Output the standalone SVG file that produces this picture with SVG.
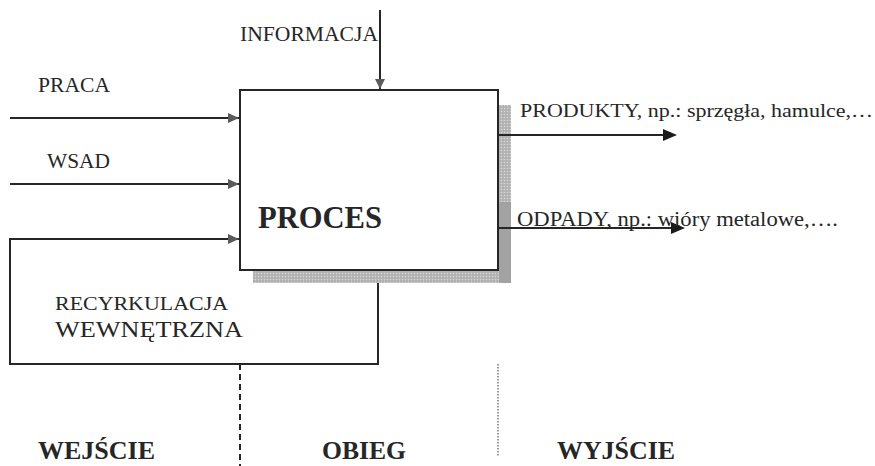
<svg xmlns="http://www.w3.org/2000/svg" width="875" height="466" viewBox="0 0 875 466">
  <style>
    .ln { stroke: #262626; stroke-width: 2; fill: none; }
    .lbl { font-family: "Liberation Serif", "Times New Roman", serif; fill: #262626; }
    .bold { font-family: "Liberation Serif", "Times New Roman", serif; font-weight: bold; fill: #262626; }
    .inhead { fill: #5a5a5a; }
    .outhead { fill: #1a1a1a; }
  </style>
  <defs>
    <pattern id="dots" width="3" height="3" patternUnits="userSpaceOnUse">
      <rect width="3" height="3" fill="#b9b9b9"/>
      <rect width="1" height="1" fill="#d8d8d8"/>
      <rect x="1.5" y="1.5" width="1" height="1" fill="#9a9a9a"/>
    </pattern>
  </defs>
  <rect width="875" height="466" fill="#ffffff"/>

  <g id="process">
    <rect x="253" y="271" width="258" height="12" fill="url(#dots)"/>
    <rect x="499" y="105" width="12" height="97" fill="url(#dots)"/>
    <rect x="499" y="202" width="12" height="81" fill="#a2a2a2"/>
    <rect x="240" y="90" width="258" height="180" fill="#ffffff" stroke="#262626" stroke-width="2"/>
    <text class="bold" x="258" y="228" font-size="31" textLength="124" lengthAdjust="spacingAndGlyphs">PROCES</text>
  </g>

  <g id="connectors">
    <!-- INFORMACJA -->
    <line class="ln" x1="380" y1="10" x2="380" y2="90"/>
    <polygon class="inhead" points="375,79 385,79 380,89"/>
    <!-- PRACA -->
    <line class="ln" x1="10" y1="118" x2="240" y2="118"/>
    <polygon class="inhead" points="228,113 228,123 239,118"/>
    <!-- WSAD -->
    <line class="ln" x1="10" y1="184" x2="240" y2="184"/>
    <polygon class="inhead" points="228,179 228,189 239,184"/>
    <!-- recycle loop -->
    <polyline class="ln" points="378,283 378,364 10,364 10,239 240,239"/>
    <polygon class="inhead" points="228,234 228,244 239,239"/>
    <!-- PRODUKTY -->
    <line class="ln" x1="498" y1="135" x2="666" y2="135"/>
    <polygon class="outhead" points="663,129 663,141 677,135"/>
    <!-- ODPADY -->
    <line class="ln" x1="498" y1="228" x2="674" y2="228"/>
    <polygon class="outhead" points="671,222 671,234 685,228"/>
  </g>

  <g id="labels">
    <text class="lbl" x="240" y="41" font-size="20" textLength="138" lengthAdjust="spacingAndGlyphs">INFORMACJA</text>
    <text class="lbl" x="38" y="92" font-size="20" textLength="72" lengthAdjust="spacingAndGlyphs">PRACA</text>
    <text class="lbl" x="47" y="168" font-size="20" textLength="63" lengthAdjust="spacingAndGlyphs">WSAD</text>
    <text class="lbl" x="55" y="310" font-size="19" textLength="173" lengthAdjust="spacingAndGlyphs">RECYRKULACJA</text>
    <text class="lbl" x="55" y="337" font-size="24" textLength="188" lengthAdjust="spacingAndGlyphs">WEWNĘTRZNA</text>
    <text class="lbl" x="520" y="117" font-size="19" textLength="353" lengthAdjust="spacingAndGlyphs">PRODUKTY, np.: sprzęgła, hamulce,…</text>
    <text class="lbl" x="517" y="226" font-size="20" textLength="321" lengthAdjust="spacingAndGlyphs">ODPADY,  np.: wióry metalowe,….</text>
  </g>

  <g id="sections">
    <line x1="240" y1="364" x2="240" y2="466" stroke="#262626" stroke-width="2" stroke-dasharray="6,4"/>
    <line x1="498" y1="364" x2="498" y2="457" stroke="#555555" stroke-width="1.2" stroke-dasharray="1.5,1.5"/>
    <text class="bold" x="38" y="459" font-size="25" textLength="117" lengthAdjust="spacingAndGlyphs">WEJŚCIE</text>
    <text class="bold" x="322" y="459" font-size="25" textLength="84" lengthAdjust="spacingAndGlyphs">OBIEG</text>
    <text class="bold" x="557" y="459" font-size="25" textLength="118" lengthAdjust="spacingAndGlyphs">WYJŚCIE</text>
  </g>
</svg>
